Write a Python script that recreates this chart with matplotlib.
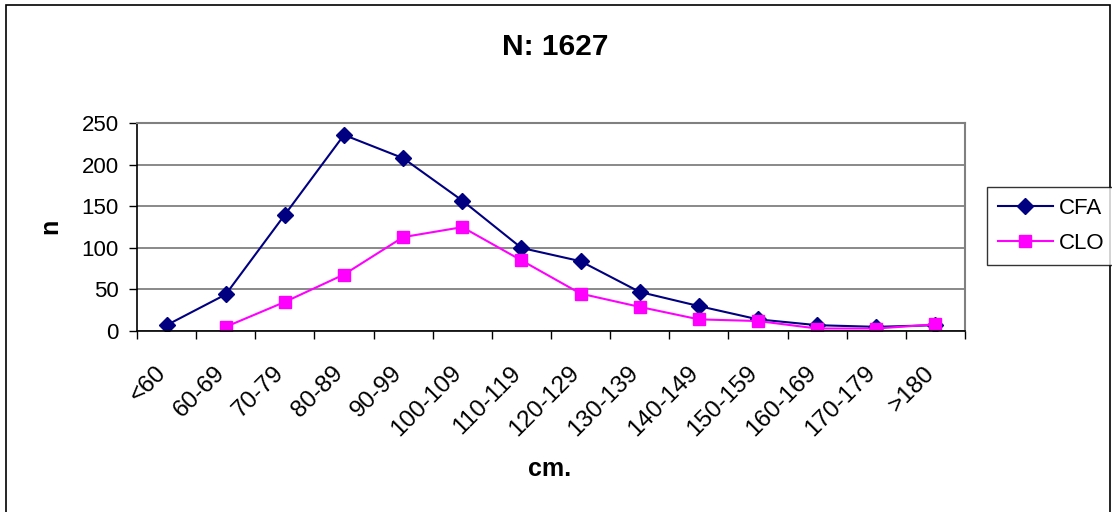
import matplotlib
matplotlib.use("Agg")
import matplotlib.pyplot as plt
from matplotlib.patches import Rectangle
from matplotlib.transforms import ScaledTranslation

categories = ["<60", "60-69", "70-79", "80-89", "90-99", "100-109", "110-119",
              "120-129", "130-139", "140-149", "150-159", "160-169", "170-179", ">180"]
cfa = [7, 44, 140, 236, 208, 157, 100, 84, 47, 30, 14, 7, 5, 7]
clo = [None, 5, 35, 68, 113, 125, 85, 45, 29, 14, 12, 3, 3, 8]

plt.rcParams['font.family'] = ['Liberation Sans', 'DejaVu Sans']

W, H = 1112, 512
fig = plt.figure(figsize=(W / 100, H / 100), dpi=100)

# outer chart frame
fig.patches.append(Rectangle((6 / W, -0.01), (1110 - 6) / W, 1.01 - 5 / H,
                             transform=fig.transFigure, fill=False,
                             edgecolor='black', linewidth=1.2))

ax = fig.add_axes([137 / W, 1 - 331 / H, (965 - 137) / W, (331 - 123.3) / H])

x = list(range(len(categories)))
clo_x = [i for i, v in zip(x, clo) if v is not None]
clo_y = [v for v in clo if v is not None]

l1, = ax.plot(x, cfa, color='#000080', lw=1.5, marker='D', markersize=8.5,
              markerfacecolor='#000080', markeredgecolor='#000080', label='CFA')
l2, = ax.plot(clo_x, clo_y, color='#FF00FF', lw=1.5, marker='s', markersize=8.5,
              markerfacecolor='#FF00FF', markeredgecolor='#FF00FF', label='CLO')

ax.set_xlim(-0.5, len(categories) - 0.5)
ax.set_ylim(0, 250)
ax.set_yticks([0, 50, 100, 150, 200, 250])
ax.yaxis.grid(True, color='#808080', lw=1.3)
ax.set_axisbelow(True)

# category ticks sit between categories, labels at category centres
ax.set_xticks([i - 0.5 for i in range(len(categories) + 1)])
ax.set_xticklabels([])
ax.set_xticks(x, minor=True)
ax.set_xticklabels(categories, minor=True, rotation=45, ha='right', va='baseline',
                   rotation_mode='anchor', fontsize=17.5)
shift = ScaledTranslation(-10 / 100, 0, fig.dpi_scale_trans)
for lab in ax.get_xticklabels(minor=True):
    lab.set_transform(lab.get_transform() + shift)
ax.tick_params(axis='x', which='minor', length=0, pad=31)
ax.tick_params(axis='x', which='major', length=6, width=1, direction='out', color='black')
ax.tick_params(axis='y', length=6, width=1, direction='out', labelsize=16, pad=7)

for s in ['top', 'right']:
    ax.spines[s].set_color('#808080')
    ax.spines[s].set_linewidth(1.5)
for s in ['left', 'bottom']:
    ax.spines[s].set_color('black')
    ax.spines[s].set_linewidth(1.2)

fig.text(555 / W, 1 - 55 / H, "N: 1627", ha='center', va='baseline',
         fontsize=21.5, fontweight='bold')
fig.text(50 / W, 1 - 226 / H, "n", ha='center', va='center', rotation=90,
         fontsize=18, fontweight='bold')
fig.text(550 / W, 1 - 476 / H, "cm.", ha='center', va='baseline',
         fontsize=18, fontweight='bold')

leg = fig.legend(handles=[l1, l2], loc='center left',
                 bbox_to_anchor=(987 / W, 1 - 226 / H), fontsize=16,
                 frameon=True, fancybox=False, edgecolor='black',
                 handlelength=2.45, borderpad=0.5, labelspacing=0.65,
                 handletextpad=0.3, borderaxespad=0)
leg.get_frame().set_linewidth(1.0)

fig.savefig("out.png", dpi=100)
